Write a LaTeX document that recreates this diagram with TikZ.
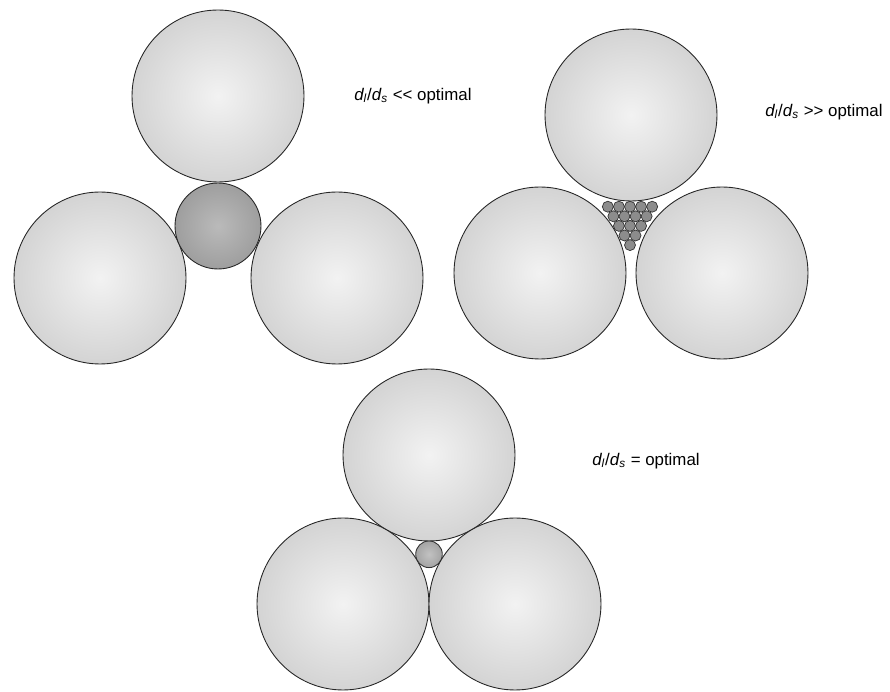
\documentclass[tikz,border=0pt]{standalone}
\usepackage{fontspec}
\setmainfont{Liberation Sans}
\usetikzlibrary{positioning}
\newcommand{\ratio}{\textit{d\textsubscript{l}}/\textit{d\textsubscript{s}}}

\begin{document}
\begin{tikzpicture}[x=0.02cm, y=-0.02cm,
  big/.style={circle, draw=black!85, line width=0.5pt, inner sep=0pt, minimum size=3.44cm, shading=radial, inner color=white!95!black, outer color=white!83!black},
  mid/.style={circle, draw=black!85, line width=0.5pt, inner sep=0pt, minimum size=1.72cm, shading=radial, inner color=black!27, outer color=black!38},
  tiny/.style={circle, draw=black!80, line width=0.5pt, inner sep=0pt, minimum size=0.532cm, shading=radial, inner color=black!24, outer color=black!36},
  grain/.style={circle, draw=black!80, line width=0.4pt, inner sep=0pt, minimum size=0.22cm, fill=black!45},
  lbl/.style={anchor=west, inner sep=0pt, font=\fontsize{9.6}{11}\selectfont}]
  \fill[white] (0,0) rectangle (890,692);
  \useasboundingbox (0,0) rectangle (890,692);

  % small particles: one particle between three large ones
  \node[big] (aTop) at (218,96) {};
  \node[big] (aLeft) at (100,278) {};
  \node[big] (aRight) at (337,278) {};
  \node[mid] (aFine) at (218,226) {};
  \node[lbl] (aText) at (354,96) {\ratio{} <{}< optimal};

  % large ratio: the gap is packed with many fines
  \node[big] (bTop) at (631,115) {};
  \node[big] (bLeft) at (540,273) {};
  \node[big] (bRight) at (722,273) {};
  \foreach \row in {0,...,4}{
    \pgfmathtruncatemacro{\last}{4-\row}
    \foreach \col in {0,...,\last}{
      \node[grain] (b-\row-\col) at ({630+(\col-\last/2)*11.08},{206.7+\row*9.6}) {};
    }
  }
  \node[lbl] (bText) at (765,112) {\ratio{} >{}> optimal};

  % optimum: the fine just fits the pore
  \node[big] (cTop) at (429,455) {};
  \node[big] (cLeft) at (343,604) {};
  \node[big] (cRight) at (515,604) {};
  \node[tiny] (cFine) at (429,554.3) {};
  \node[lbl] (cText) at (592,461) {\ratio{} = optimal};
\end{tikzpicture}
\end{document}
